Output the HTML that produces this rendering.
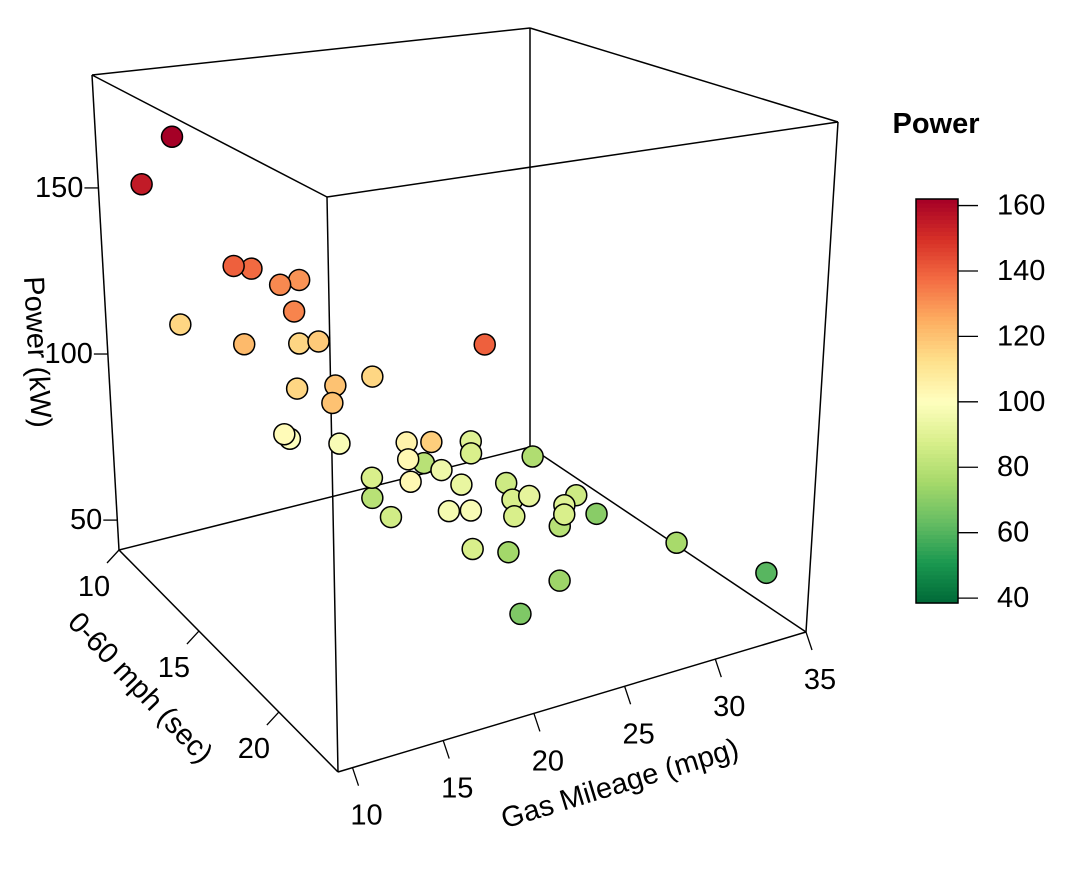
<!DOCTYPE html>
<html><head><meta charset="utf-8"><style>
html,body{margin:0;padding:0;background:#fff;}
svg{display:block;font-family:"Liberation Sans",Arial,sans-serif;}
</style></head><body>
<svg id="chart" width="1075" height="878" viewBox="0 0 1075 878" xmlns="http://www.w3.org/2000/svg">
<g id="box"></g>
<g id="ticks"></g>
<g id="points"></g>
<text x="0" y="0" font-size="29" text-anchor="middle" dominant-baseline="central" transform="translate(37,352) rotate(87)">Power (kW)</text>
<text x="0" y="0" font-size="29" text-anchor="middle" dominant-baseline="central" transform="translate(620,784) rotate(-17)">Gas Mileage (mpg)</text>
<text x="0" y="0" font-size="29" text-anchor="middle" dominant-baseline="central" transform="translate(140,688) rotate(46.5)">0-60 mph (sec)</text>
<g id="legend">
<text x="936" y="133" font-size="29" font-weight="bold" text-anchor="middle">Power</text>
</g>
</svg>
<script>
// data: gas mileage (mpg), 0-60 time (sec), power (kW)
const mpg   = [13.0,10.3,12.2,13.3,14.9,16.6,13.4,11.5,11.6,15.7,16.0,12.7,13.4,12.2,16.7,12.2,12.6,14.9,17.2,16.3,14.6,22.4,22.1,15.8,21.2,18.3,16.4,14.6,18.7,26.7,22.4,16.9,21.0,21.0,15.4,15.8,16.5,20.1,24.5,22.3,22.2,23.1,27.5,16.6,20.6,27.6,21.3,32.6,19.2];
const accel = [10.7,11.5,14.8,14.7,14.7,14.1,17.0,12.2,15.9,14.9,15.7,17.8,19.3,20.4,18.0,17.5,17.4,17.9,23.7,20.3,23.5,17.8,18.1,20.9,16.4,20.2,18.2,22.3,20.9,17.1,19.7,17.7,21.4,22.3,20.3,23.2,23.7,22.4,21.4,22.9,23.0,21.9,19.7,23.7,21.6,23.7,23.7,23.7,23.7];
const power = [165,155,140,138,132,130,133,115,122,115,118,115,120,120,115,102,100,98,140,105,117,90,88,103,80,95,88,103,93,78,85,80,88,92,86,97,98,88,85,90,88,80,70,88,75,76,74,61,68];
const xTicks = [10,15,20,25,30,35];
const yTicks = [10,15,20];
const zTicks = [50,100,150];
const legendTicks = [40,60,80,100,120,140,160];

const X0=9.2,X1=35,Y0=10,Y1=23.7,Z0=41,Z1=184;
const C={"000":[119,550],"100":[530,447],"010":[338,772],"110":[806,632],"001":[92,75],"101":[530,28],"011":[327,197],"111":[838,122]};
function proj(x,y,z){
  const u=(x-X0)/(X1-X0),v=(y-Y0)/(Y1-Y0),w=(z-Z0)/(Z1-Z0);
  let px=0,py=0;
  for(const a of [0,1])for(const b of [0,1])for(const c of [0,1]){
    const f=(a?u:1-u)*(b?v:1-v)*(c?w:1-w);const p=C[""+a+b+c];px+=f*p[0];py+=f*p[1];}
  return [px,py];
}
const stops=["#006837","#1a9850","#66bd63","#a6d96a","#d9ef8b","#ffffbf","#fee08b","#fdae61","#f46d43","#d73027","#a50026"];
const CL0=38.5,CL1=162;
function hex(h){return [1,3,5].map(i=>parseInt(h.substr(i,2),16));}
function color(p){
  let t=(p-CL0)/(CL1-CL0);t=Math.max(0,Math.min(1,t));
  const s=t*(stops.length-1),i=Math.min(stops.length-2,Math.floor(s)),f=s-i;
  const a=hex(stops[i]),b=hex(stops[i+1]);
  return "rgb("+a.map((c,k)=>Math.round(c+(b[k]-c)*f)).join(",")+")";
}
const NS="http://www.w3.org/2000/svg";
function mk(tag,attrs,parent){const e=document.createElementNS(NS,tag);for(const k in attrs)e.setAttribute(k,attrs[k]);parent.appendChild(e);return e;}
const box=document.getElementById('box');
const edges=[["000","100"],["100","110"],["110","010"],["010","000"],["001","101"],["101","111"],["111","011"],["011","001"],["000","001"],["100","101"],["110","111"],["010","011"]];
edges.forEach(e=>{
  const a=C[e[0]],b=C[e[1]];
  const l=mk('line',{x1:a[0],y1:a[1],x2:b[0],y2:b[1],stroke:'#000','stroke-width':1.5},box);
  
  
});
const tk=document.getElementById('ticks');
function tickLabel(px,py,dx,dy,lx,ly,txt,anchor,name){
  const l=mk('line',{x1:px,y1:py,x2:px+dx,y2:py+dy,stroke:'#000','stroke-width':1.3},tk);
  
  
  const t=mk('text',{x:px+lx,y:py+ly,'font-size':29,'text-anchor':anchor,'dominant-baseline':'central'},tk);
  t.textContent=txt;
  
  
}
xTicks.forEach(v=>{const p=proj(v,Y1,Z0);tickLabel(p[0],p[1],6,18,14,48,v,'middle','x-axis');});
yTicks.forEach(v=>{const p=proj(X0,v,Z0);tickLabel(p[0],p[1],-12,13,-25,37,v,'middle','y-axis');});
zTicks.forEach(v=>{const p=proj(X0,Y0,v);tickLabel(p[0],p[1],-14,0,-15,0,v,'end','z-axis');});
// points back to front
const idx=accel.map((a,i)=>i).sort((i,j)=>accel[i]-accel[j]);
const pg=document.getElementById('points');
idx.forEach(i=>{
  const p=proj(mpg[i],accel[i],power[i]);
  const c=mk('circle',{cx:p[0],cy:p[1],r:10.5,fill:color(power[i]),stroke:'#000','stroke-width':1.5},pg);
  
  
});
// legend
const lg=document.getElementById('legend');
const LT=199,LB=603;
function ly(v){return LB-(v-CL0)/(CL1-CL0)*(LB-LT);}
for(let k=0;k<100;k++){
  const v0=CL0+(CL1-CL0)*k/100,v1=CL0+(CL1-CL0)*(k+1)/100;
  const r=mk('rect',{x:916,y:ly(v1),width:42,height:ly(v0)-ly(v1)+0.6,fill:color((v0+v1)/2)},lg);
  
  
}
const fr=mk('rect',{x:916,y:LT,width:42,height:LB-LT,fill:'none',stroke:'#000','stroke-width':1.5},lg);


legendTicks.forEach(v=>{
  const y=ly(v);
  const l=mk('line',{x1:958,y1:y,x2:978,y2:y,stroke:'#000','stroke-width':1.3},lg);
  
  
  const t=mk('text',{x:997,y:y,'font-size':29,'dominant-baseline':'central'},lg);
  t.textContent=v;
  
  
});
</script>
</body></html>
